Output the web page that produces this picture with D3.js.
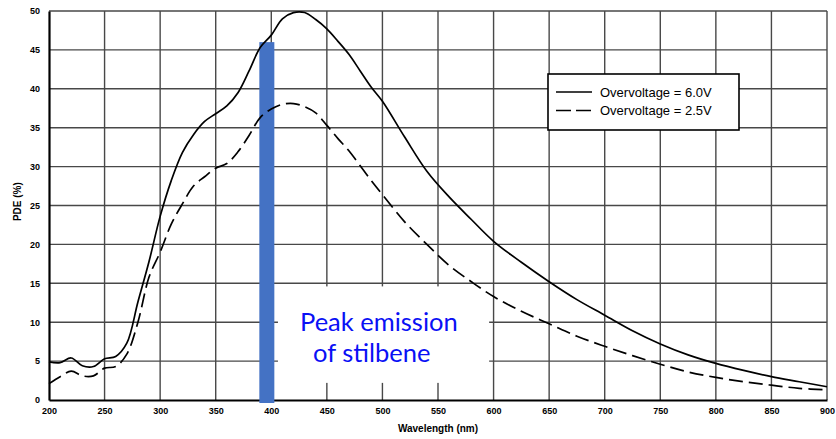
<style>body { margin: 0; } svg { display: block; }</style>
<svg width="836" height="439" font-family="Liberation Sans, Arial, sans-serif"></svg>

<script src="https://cdn.jsdelivr.net/npm/d3@7"></script>

<script>
// wavelength (nm) and PDE (%)
var wavelengths = [200,210,220,230,240,250,260,270,280,290,300,310,320,330,340,350,360,370,380,390,400,410,420,430,440,450,460,470,480,490,500,520,540,560,580,600,625,650,675,700,725,750,775,800,825,850,875,900];
var pde6v0 = [4.9,4.8,5.4,4.4,4.3,5.3,5.6,7.3,12.6,17.8,23.6,28.2,31.8,34.1,35.8,36.8,37.8,39.5,42.3,45.3,46.9,49.0,49.8,49.8,48.9,47.7,46.1,44.4,42.3,40.2,38.4,33.8,29.4,26.1,23.2,20.4,17.7,15.2,12.9,10.9,8.9,7.2,5.8,4.7,3.8,3.0,2.35,1.7];
var pde2v5 = [2.1,3.0,3.7,3.1,3.1,4.1,4.3,5.9,10.0,15.8,19.0,22.6,25.2,27.5,28.7,29.8,30.4,31.9,34.0,36.3,37.4,38.0,38.1,37.7,36.9,35.3,33.6,32.0,30.1,28.2,26.4,22.9,20.0,17.3,15.2,13.3,11.4,9.8,8.2,6.9,5.7,4.6,3.6,2.9,2.35,1.9,1.5,1.3];
var xTicks = d3.range(200, 901, 50);
var yTicks = d3.range(0, 51, 5);
var seriesNames = ["Overvoltage = 6.0V", "Overvoltage = 2.5V"];
// stilbene peak emission marker
var peakWl = 396, peakTop = 46;

var svg = d3.select("svg");
svg.append("rect").attr("width", 836).attr("height", 439).attr("fill", "#fff");

var x = d3.scaleLinear().domain([200, 900]).range([49, 827]);
var y = d3.scaleLinear().domain([0, 50]).range([400, 11]);

// grid
svg.append("g").selectAll("line").data(yTicks.slice(1)).enter().append("line")
    .attr("x1", x(200)).attr("x2", x(900))
    .attr("y1", function(d) { return y(d); }).attr("y2", function(d) { return y(d); })
    .attr("stroke", "#484848").attr("stroke-width", 1.4);
svg.append("g").selectAll("line").data(xTicks.slice(1)).enter().append("line")
    .attr("x1", function(d) { return x(d); }).attr("x2", function(d) { return x(d); })
    .attr("y1", y(0)).attr("y2", y(50))
    .attr("stroke", "#484848").attr("stroke-width", 1.4);

// white patch behind the annotation
svg.append("rect")
    .attr("x", x(406)).attr("width", x(596) - x(406))
    .attr("y", y(14.6)).attr("height", y(2.2) - y(14.6))
    .attr("fill", "#fff");

// axes
var xAxis = svg.append("g").attr("transform", "translate(0," + y(0) + ")")
    .call(d3.axisBottom(x).tickValues(xTicks).tickSize(0).tickPadding(8));
var yAxis = svg.append("g").attr("transform", "translate(" + x(200) + ",0)")
    .call(d3.axisLeft(y).tickValues(yTicks).tickSize(0).tickPadding(9));
[xAxis, yAxis].forEach(function(a) {
  a.select(".domain").attr("stroke", "#000").attr("stroke-width", 2.2);
  a.selectAll("text").attr("font-size", 9).attr("font-weight", "bold")
      .attr("font-family", "Liberation Sans, Arial, sans-serif").attr("fill", "#000");
});

svg.append("text").attr("x", x(550)).attr("y", 432)
    .attr("text-anchor", "middle").attr("font-size", 10).attr("font-weight", "bold")
    .text("Wavelength (nm)");
svg.append("text").attr("transform", "translate(21," + y(25.5) + ") rotate(-90)")
    .attr("text-anchor", "middle").attr("font-size", 10).attr("font-weight", "bold")
    .text("PDE (%)");

// peak bar
svg.append("rect")
    .attr("x", x(peakWl) - 7.5).attr("width", 15)
    .attr("y", y(peakTop)).attr("height", y(0) + 3 - y(peakTop))
    .attr("fill", "#4472c4");

// curves
var line = d3.line()
    .x(function(d) { return x(d[0]); })
    .y(function(d) { return y(d[1]); })
    .curve(d3.curveCatmullRom.alpha(0.5));
svg.append("path").datum(d3.zip(wavelengths, pde6v0))
    .attr("d", line).attr("fill", "none").attr("stroke", "#000").attr("stroke-width", 1.7);
svg.append("path").datum(d3.zip(wavelengths, pde2v5))
    .attr("d", line).attr("fill", "none").attr("stroke", "#000").attr("stroke-width", 1.7)
    .attr("stroke-dasharray", "14,6");

// annotation
var note = svg.append("text").attr("font-family", "Lato, Open Sans, sans-serif")
    .attr("font-size", 25.5).attr("fill", "#0a10f5");
note.append("tspan").attr("x", 300).attr("y", 331).text("Peak emission");
note.append("tspan").attr("x", 313).attr("y", 362).text("of stilbene");

// legend
var legend = svg.append("g");
legend.append("rect").attr("x", 548).attr("y", 74).attr("width", 191).attr("height", 56)
    .attr("fill", "#fff").attr("stroke", "#000").attr("stroke-width", 1.6);
legend.selectAll(".item").data(seriesNames).enter().append("g")
    .attr("transform", function(d, i) { return "translate(0," + (92 + i * 18.5) + ")"; })
    .each(function(d, i) {
      var g = d3.select(this);
      g.append("line").attr("x1", 556).attr("x2", 592).attr("y1", 0).attr("y2", 0)
          .attr("stroke", "#000").attr("stroke-width", 1.7)
          .attr("stroke-dasharray", i ? "15,5" : null);
      g.append("text").attr("x", 600).attr("y", 4.5).attr("font-size", 13).text(d);
    });
</script>
